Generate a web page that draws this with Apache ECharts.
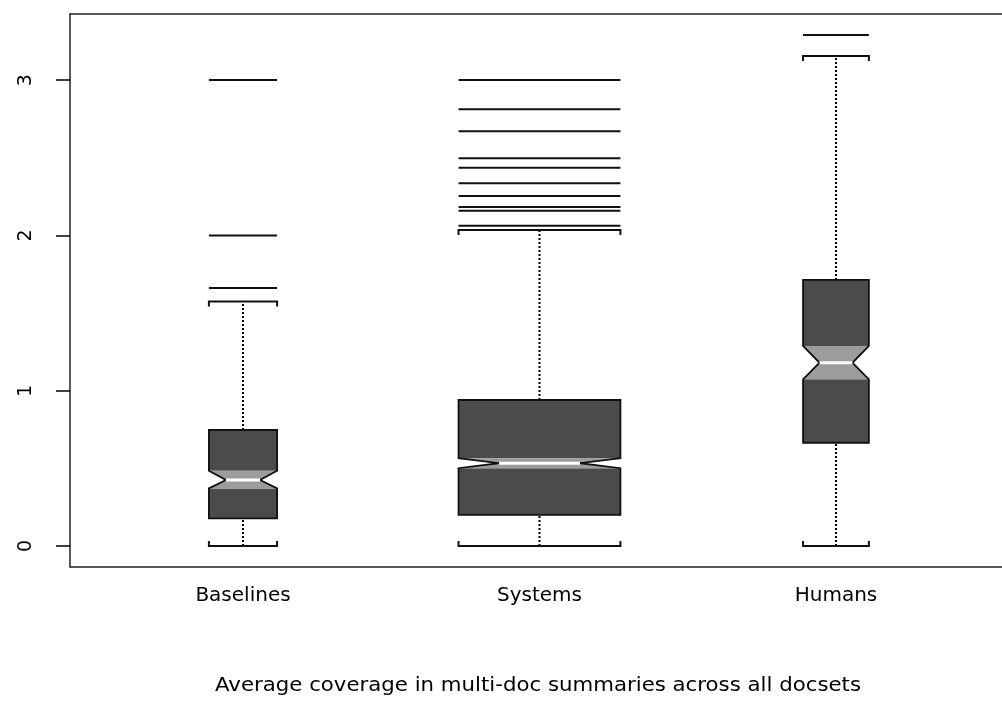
<!DOCTYPE html>
<html>
<head>
<meta charset="utf-8">
<script src="https://cdn.jsdelivr.net/npm/echarts@6/dist/echarts.min.js"></script>
<style>
    html, body { margin: 0; padding: 0; background: #fff; }
    .box { width: 1002px; height: 702px; }
</style>
</head>
<body>
<div class="box"></div>
<script>
// categories and box statistics
const categories = ["Baselines", "Systems", "Humans"];
const whiskerLow = [0, 0, 0];
const q1 = [0.178, 0.200, 0.665];
const notchLow = [0.371, 0.501, 1.073];
const median = [0.425, 0.533, 1.180];
const notchHigh = [0.485, 0.565, 1.288];
const q3 = [0.747, 0.940, 1.713];
const whiskerHigh = [1.575, 2.035, 3.155];
const outliers = [
    [1.661, 2.0, 3.0],
    [2.062, 2.159, 2.183, 2.254, 2.335, 2.436, 2.496, 2.670, 2.812, 3.0],
    [3.290]
];
const yTicks = [0, 1, 2, 3];
const titleText = "Average coverage in multi-doc summaries across all docsets";

// half box widths in x-axis units (varwidth boxes)
const halfWidths = [0.115, 0.273, 0.111];

window.onload = function(){
    let mycharts = echarts.init(document.querySelector(".box"));

    let boxData = categories.map(function(c, i){
        return [i + 1, whiskerLow[i], q1[i], notchLow[i], median[i], notchHigh[i], q3[i], whiskerHigh[i]];
    });
    let outlierData = [];
    outliers.forEach(function(list, i){
        list.forEach(function(v){
            outlierData.push([i + 1, v]);
        });
    });

    function renderBox(params, api){
        let x = api.value(0);
        let hw = halfWidths[x - 1];
        let lo = api.value(1), b1 = api.value(2), nLo = api.value(3), med = api.value(4),
            nHi = api.value(5), b3 = api.value(6), hi = api.value(7);
        let p = function(dx, y){ return api.coord([x + dx, y]); };
        let dark = "#4b4b4b";
        let capL = p(-hw, hi), capR = p(hw, hi);
        let lcapL = p(-hw, lo), lcapR = p(hw, lo);
        let whisker = { stroke: "#000", lineWidth: 2, lineDash: [2, 2] };
        return {
            type: "group",
            children: [
                {
                    type: "line",
                    shape: { x1: p(0, b3)[0], y1: p(0, b3)[1], x2: p(0, hi)[0], y2: p(0, hi)[1] },
                    style: whisker
                },
                {
                    type: "line",
                    shape: { x1: p(0, lo)[0], y1: p(0, lo)[1], x2: p(0, b1)[0], y2: p(0, b1)[1] },
                    style: whisker
                },
                {
                    type: "polyline",
                    shape: { points: [[capL[0], capL[1] + 5], capL, capR, [capR[0], capR[1] + 5]] },
                    style: { stroke: "#111", lineWidth: 2, fill: null }
                },
                {
                    type: "polyline",
                    shape: { points: [[lcapL[0], lcapL[1] - 5], lcapL, lcapR, [lcapR[0], lcapR[1] - 5]] },
                    style: { stroke: "#111", lineWidth: 2, fill: null }
                },
                {
                    type: "polygon",
                    shape: { points: [p(-hw, b3), p(hw, b3), p(hw, nHi), p(-hw, nHi)] },
                    style: { fill: dark }
                },
                {
                    type: "polygon",
                    shape: { points: [p(-hw, nLo), p(hw, nLo), p(hw, b1), p(-hw, b1)] },
                    style: { fill: dark }
                },
                {
                    type: "polygon",
                    shape: { points: [p(-hw, nHi), p(hw, nHi), p(hw * 0.5, med), p(hw, nLo), p(-hw, nLo), p(-hw * 0.5, med)] },
                    style: { fill: "#9c9c9c" }
                },
                {
                    type: "polygon",
                    shape: { points: [
                        p(-hw, b1), p(hw, b1), p(hw, nLo), p(hw * 0.5, med), p(hw, nHi),
                        p(hw, b3), p(-hw, b3), p(-hw, nHi), p(-hw * 0.5, med), p(-hw, nLo)
                    ] },
                    style: { fill: null, stroke: "#111", lineWidth: 1.8 }
                },
                {
                    type: "line",
                    shape: { x1: p(-hw * 0.5, med)[0], y1: p(0, med)[1], x2: p(hw * 0.5, med)[0], y2: p(0, med)[1] },
                    style: { stroke: "#fff", lineWidth: 3 }
                }
            ]
        };
    }

    function renderOutlier(params, api){
        let x = api.value(0);
        let hw = halfWidths[x - 1];
        let a = api.coord([x - hw, api.value(1)]);
        let b = api.coord([x + hw, api.value(1)]);
        return {
            type: "line",
            shape: { x1: a[0], y1: a[1], x2: b[0], y2: b[1] },
            style: { stroke: "#111", lineWidth: 2 }
        };
    }

    let frameLine = { show: true, onZero: false, lineStyle: { color: "#222", width: 1.5 } };

    mycharts.setOption({
        backgroundColor: "#fff",
        animation: false,
        grid: {
            left: 70,
            top: 14,
            right: 0,
            height: 553
        },
        xAxis: [
            {
                type: "value",
                min: 0.4165,
                max: 3.560,
                axisLine: frameLine,
                axisTick: { show: false },
                splitLine: { show: false },
                axisLabel: {
                    customValues: [1, 2, 3],
                    margin: 19,
                    color: "#000",
                    fontFamily: "DejaVu Sans",
                    fontSize: 20,
                    formatter: function(v){
                        return categories[Math.round(v) - 1] || "";
                    }
                }
            },
            {
                type: "value",
                position: "top",
                min: 0.4165,
                max: 3.560,
                axisLine: frameLine,
                axisTick: { show: false },
                axisLabel: { show: false },
                splitLine: { show: false }
            }
        ],
        yAxis: {
            type: "value",
            min: -0.1352,
            max: 3.4256,
            axisLine: frameLine,
            splitLine: { show: false },
            axisTick: {
                show: true,
                customValues: yTicks,
                length: 14,
                lineStyle: { color: "#000", width: 1.5 }
            },
            axisLabel: {
                customValues: yTicks,
                rotate: 90,
                margin: 34,
                color: "#000",
                fontFamily: "DejaVu Sans",
                fontSize: 19
            }
        },
        graphic: [
            {
                type: "text",
                x: 538,
                y: 677,
                scaleX: 1.12,
                style: {
                    text: titleText,
                    fill: "#000",
                    font: "19px 'DejaVu Sans'",
                    textAlign: "center"
                }
            }
        ],
        series: [
            {
                type: "custom",
                name: "box",
                data: boxData,
                encode: { x: 0, y: [1, 2, 3, 4, 5, 6, 7] },
                renderItem: renderBox,
                clip: false
            },
            {
                type: "custom",
                name: "outliers",
                data: outlierData,
                encode: { x: 0, y: 1 },
                renderItem: renderOutlier
            }
        ]
    });
};
</script>
</body>
</html>
